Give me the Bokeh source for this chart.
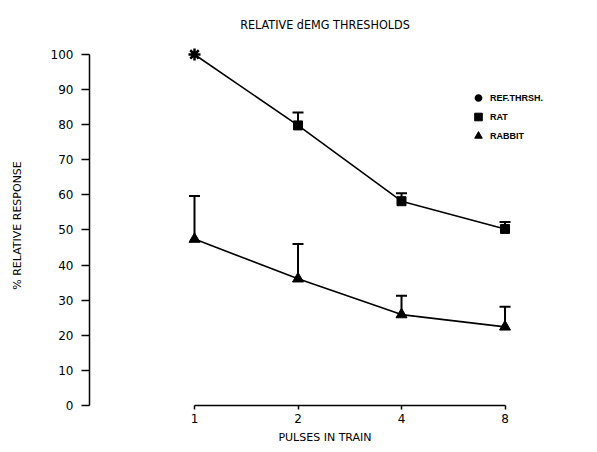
from bokeh.plotting import figure
from bokeh.models import (Range1d, FixedTicker, Whisker, TeeHead, ColumnDataSource,
                          Legend, LegendItem)
from bokeh.embed import file_html
from bokeh.resources import INLINE

# ---- data ----
pulses = [1, 2, 4, 8]
x_tick_labels = ["1", "2", "4", "8"]
y_ticks = [0, 10, 20, 30, 40, 50, 60, 70, 80, 90, 100]

ref_x = [1]
ref_y = [100]

rat_x = [2, 4, 8]
rat_mean = [79.8, 58.2, 50.3]
rat_upper = [83.5, 60.5, 52.3]

rabbit_x = [1, 2, 4, 8]
rabbit_mean = [47.4, 36.1, 25.9, 22.4]
rabbit_upper = [59.7, 46.0, 31.3, 28.1]

TICK_FONT = "DejaVu Sans"

p = figure(width=581, height=446, output_backend="svg", toolbar_location=None,
           x_axis_type="log", x_range=Range1d(0.495, 11.6), y_range=Range1d(0, 102.56),
           min_border_left=89, min_border_right=21, min_border_top=45, min_border_bottom=40,
           title="RELATIVE dEMG THRESHOLDS")
p.outline_line_color = None
p.grid.visible = False
p.background_fill_color = "white"

p.title.align = "center"
p.title.text_font = "DejaVu Sans Condensed"
p.title.text_font_size = "12.5px"
p.title.text_font_style = "normal"
p.title.text_color = "black"
p.title.standoff = 28

# axes
xa = p.xaxis[0]
xa.ticker = FixedTicker(ticks=pulses)
xa.major_label_overrides = {float(v): s for v, s in zip(pulses, x_tick_labels)}
xa.bounds = (1, 8)
xa.minor_tick_line_color = None
xa.major_tick_in = 0
xa.major_tick_out = 4
xa.axis_line_width = 1.5
xa.major_tick_line_width = 1.5
xa.axis_line_color = "black"
xa.major_tick_line_color = "black"
xa.major_label_text_font = TICK_FONT
xa.major_label_text_font_size = "12px"
xa.major_label_text_color = "black"
xa.major_label_standoff = 4
xa.axis_label = "PULSES IN TRAIN"
xa.axis_label_text_font = TICK_FONT
xa.axis_label_text_font_size = "11px"
xa.axis_label_text_font_style = "normal"
xa.axis_label_text_color = "black"
xa.axis_label_standoff = 5

ya = p.yaxis[0]
ya.ticker = FixedTicker(ticks=y_ticks)
ya.bounds = (0, 100)
ya.minor_tick_line_color = None
ya.major_tick_in = 0
ya.major_tick_out = 8
ya.axis_line_width = 1.5
ya.major_tick_line_width = 1.5
ya.axis_line_color = "black"
ya.major_tick_line_color = "black"
ya.major_label_text_font = TICK_FONT
ya.major_label_text_font_size = "12px"
ya.major_label_text_color = "black"
ya.major_label_standoff = 8
ya.axis_label = "% RELATIVE RESPONSE"
ya.axis_label_text_font = TICK_FONT
ya.axis_label_text_font_size = "11px"
ya.axis_label_text_font_style = "normal"
ya.axis_label_text_color = "black"
ya.axis_label_standoff = 24

# lines
p.line(ref_x + rat_x, ref_y + rat_mean, line_color="black", line_width=1.6)
p.line(rabbit_x, rabbit_mean, line_color="black", line_width=1.6)

# error bars (upper only)
rat_src = ColumnDataSource(dict(x=rat_x, lo=rat_mean, up=rat_upper))
rab_src = ColumnDataSource(dict(x=rabbit_x, lo=rabbit_mean, up=rabbit_upper))
for src in (rat_src, rab_src):
    w = Whisker(base="x", lower="lo", upper="up", source=src, dimension="height",
                line_color="black", line_width=2,
                upper_head=TeeHead(size=11, line_color="black", line_width=2),
                lower_head=None)
    p.add_layout(w)

# markers
r_ref = p.scatter(ref_x, ref_y, marker="asterisk", size=12, line_color="black", line_width=2.5)
r_rat = p.scatter(rat_x, rat_mean, marker="square", size=9, fill_color="black", line_color="black")
r_rab = p.scatter(rabbit_x, rabbit_mean, marker="triangle", size=11, fill_color="black", line_color="black")

legend = Legend(items=[LegendItem(label="REF.THRSH.", renderers=[r_ref]),
                       LegendItem(label="RAT", renderers=[r_rat]),
                       LegendItem(label="RABBIT", renderers=[r_rab])],
                location=(379, 260), orientation="vertical")
legend.background_fill_alpha = 0
legend.border_line_color = None
legend.padding = 0
legend.margin = 0
legend.spacing = 0
legend.glyph_width = 20
legend.glyph_height = 19
legend.label_height = 19
legend.label_standoff = 2
legend.label_text_font = "Liberation Sans"
legend.label_text_font_style = "bold"
legend.label_text_font_size = "9px"
legend.label_text_color = "black"
p.add_layout(legend)

open("out.html", "w").write(file_html(p, INLINE))
